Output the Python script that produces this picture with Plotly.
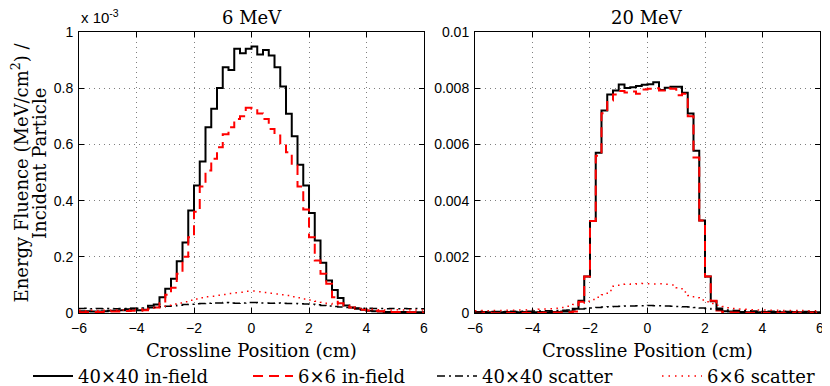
"""Energy fluence profiles, 6 MeV and 20 MeV, in-field vs scatter."""

import numpy as np
import plotly.graph_objects as go

# bin edges of the crossline profiles (cm), 0.2 cm bins
EDGES_CM = np.linspace(-6.0, 6.0, 61)

# 6 MeV panel, values in units of 1e-3 MeV/cm^2 per incident particle
mev6_in40 = [
    0.006, 0.006, 0.005, 0.005, 0.006, 0.008, 0.008, 0.010, 0.013, 0.015,
    0.010, 0.012, 0.026, 0.030, 0.056, 0.086, 0.122, 0.184, 0.251, 0.365,
    0.454, 0.539, 0.661, 0.727, 0.801, 0.875, 0.865, 0.940, 0.924, 0.940,
    0.948, 0.920, 0.936, 0.916, 0.875, 0.806, 0.709, 0.629, 0.528, 0.454,
    0.356, 0.258, 0.179, 0.116, 0.082, 0.053, 0.027, 0.020, 0.015, 0.012,
    0.008, 0.006, 0.005, 0.004, 0.004, 0.003, 0.004, 0.003, 0.003, 0.003,
]
mev6_in6 = [
    0.003, 0.003, 0.004, 0.004, 0.004, 0.005, 0.005, 0.006, 0.007, 0.008,
    0.008, 0.010, 0.015, 0.020, 0.035, 0.065, 0.090, 0.140, 0.200, 0.270,
    0.360, 0.450, 0.507, 0.549, 0.590, 0.636, 0.661, 0.690, 0.700, 0.730,
    0.727, 0.710, 0.690, 0.655, 0.632, 0.600, 0.572, 0.525, 0.450, 0.368,
    0.270, 0.187, 0.140, 0.104, 0.056, 0.035, 0.027, 0.020, 0.015, 0.012,
    0.009, 0.008, 0.006, 0.005, 0.004, 0.004, 0.003, 0.003, 0.003, 0.002,
]
mev6_sc40 = [
    0.016, 0.017, 0.015, 0.016, 0.015, 0.016, 0.015, 0.016, 0.016, 0.017,
    0.017, 0.018, 0.019, 0.020, 0.022, 0.024, 0.026, 0.028, 0.030, 0.031,
    0.033, 0.034, 0.035, 0.036, 0.036, 0.037, 0.036, 0.035, 0.036, 0.037,
    0.037, 0.036, 0.036, 0.035, 0.036, 0.035, 0.034, 0.034, 0.033, 0.032,
    0.031, 0.029, 0.027, 0.025, 0.023, 0.021, 0.020, 0.019, 0.018, 0.017,
    0.017, 0.016, 0.016, 0.015, 0.016, 0.015, 0.016, 0.015, 0.016, 0.015,
]
mev6_sc6 = [
    0.010, 0.008, 0.010, 0.009, 0.010, 0.010, 0.011, 0.011, 0.012, 0.013,
    0.014, 0.015, 0.017, 0.020, 0.024, 0.028, 0.032, 0.036, 0.040, 0.045,
    0.050, 0.054, 0.058, 0.060, 0.063, 0.066, 0.069, 0.072, 0.074, 0.077,
    0.078, 0.076, 0.073, 0.070, 0.068, 0.065, 0.062, 0.058, 0.054, 0.050,
    0.046, 0.042, 0.038, 0.034, 0.030, 0.026, 0.022, 0.019, 0.016, 0.014,
    0.013, 0.012, 0.012, 0.011, 0.011, 0.012, 0.011, 0.012, 0.011, 0.011,
]

# 20 MeV panel, MeV/cm^2 per incident particle
mev20_in40 = [
    0.00004, 0.00004, 0.00003, 0.00004, 0.00003, 0.00004, 0.00004, 0.00003, 0.00004, 0.00004,
    0.00003, 0.00004, 0.00003, 0.00004, 0.00004, 0.00005, 0.00005, 0.00015, 0.00044, 0.00130,
    0.00327, 0.00570, 0.00721, 0.00778, 0.00792, 0.00813, 0.00801, 0.00803, 0.00808, 0.00812,
    0.00814, 0.00821, 0.00794, 0.00802, 0.00805, 0.00805, 0.00784, 0.00710, 0.00577, 0.00329,
    0.00130, 0.00042, 0.00016, 0.00006, 0.00005, 0.00004, 0.00004, 0.00003, 0.00004, 0.00003,
    0.00004, 0.00003, 0.00004, 0.00003, 0.00003, 0.00004, 0.00003, 0.00003, 0.00004, 0.00003,
]
mev20_in6 = [
    0.00002, 0.00002, 0.00001, 0.00002, 0.00002, 0.00001, 0.00002, 0.00002, 0.00001, 0.00002,
    0.00002, 0.00001, 0.00002, 0.00002, 0.00002, 0.00002, 0.00003, 0.00005, 0.00040, 0.00130,
    0.00327, 0.00560, 0.00711, 0.00756, 0.00778, 0.00790, 0.00785, 0.00788, 0.00780, 0.00795,
    0.00798, 0.00800, 0.00792, 0.00800, 0.00798, 0.00775, 0.00780, 0.00700, 0.00553, 0.00329,
    0.00130, 0.00044, 0.00009, 0.00003, 0.00002, 0.00002, 0.00002, 0.00001, 0.00002, 0.00002,
    0.00001, 0.00002, 0.00002, 0.00001, 0.00002, 0.00002, 0.00001, 0.00002, 0.00002, 0.00001,
]
mev20_sc40 = [
    0.00004, 0.00005, 0.00004, 0.00005, 0.00005, 0.00005, 0.00006, 0.00005, 0.00006, 0.00006,
    0.00007, 0.00007, 0.00008, 0.00008, 0.00009, 0.00010, 0.00011, 0.00012, 0.00014, 0.00016,
    0.00018, 0.00020, 0.00021, 0.00022, 0.00023, 0.00024, 0.00025, 0.00025, 0.00026, 0.00026,
    0.00027, 0.00026, 0.00026, 0.00025, 0.00024, 0.00023, 0.00022, 0.00021, 0.00020, 0.00018,
    0.00016, 0.00014, 0.00012, 0.00011, 0.00010, 0.00009, 0.00008, 0.00008, 0.00007, 0.00007,
    0.00006, 0.00006, 0.00005, 0.00006, 0.00005, 0.00005, 0.00004, 0.00005, 0.00004, 0.00004,
]
mev20_sc6 = [
    0.00008, 0.00009, 0.00008, 0.00009, 0.00009, 0.00010, 0.00010, 0.00011, 0.00011, 0.00012,
    0.00012, 0.00013, 0.00014, 0.00015, 0.00017, 0.00020, 0.00024, 0.00030, 0.00036, 0.00042,
    0.00048, 0.00056, 0.00065, 0.00080, 0.00095, 0.00102, 0.00103, 0.00102, 0.00104, 0.00105,
    0.00104, 0.00103, 0.00104, 0.00102, 0.00100, 0.00090, 0.00075, 0.00062, 0.00054, 0.00046,
    0.00040, 0.00034, 0.00028, 0.00023, 0.00019, 0.00016, 0.00014, 0.00013, 0.00012, 0.00011,
    0.00011, 0.00010, 0.00010, 0.00009, 0.00009, 0.00009, 0.00008, 0.00009, 0.00008, 0.00008,
]

SERIES_NAMES = ["40×40 in-field", "6×6 in-field", "40×40 scatter", "6×6 scatter"]
PANEL_TITLES = ["6 MeV", "20 MeV"]
PANELS = [
    [mev6_in40, mev6_in6, mev6_sc40, mev6_sc6],
    [mev20_in40, mev20_in6, mev20_sc40, mev20_sc6],
]

LINE_STYLES = [
    {"color": "black", "width": 2, "dash": "solid"},
    {"color": "red", "width": 2, "dash": "10px,6px"},
    {"color": "black", "width": 1.5, "dash": "8px,4px,2px,4px"},
    {"color": "red", "width": 1.5, "dash": "1.5px,5px"},
]

SERIF = "DejaVu Serif"
SANS = "Liberation Sans"
SERIF_SIZE = 18
TICK_SIZE = 14

# the page body adds an 8px margin, so the figure is laid out 8px up/left
# plot area in figure pixels: left 71, right 812, top 24, bottom 305
ML, MR, MT, MB = 71, 18, 24, 81
PW = 830 - ML - MR

# one legend per series so the entries sit in a single row
LEGEND_IDS = ["legend", "legend2", "legend3", "legend4"]
LEGEND_X_PX = [20, 240, 424, 649]

fig = go.Figure()
for p, panel in enumerate(PANELS):
    xa = "x" if p == 0 else "x2"
    ya = "y" if p == 0 else "y2"
    for name, vals, style, leg in zip(SERIES_NAMES, panel, LINE_STYLES, LEGEND_IDS):
        fig.add_trace(
            go.Scatter(
                x=EDGES_CM,
                y=list(vals) + [vals[-1]],
                mode="lines",
                line_shape="hv",
                name=name,
                line=style,
                legend=leg,
                showlegend=(p == 0),
                xaxis=xa,
                yaxis=ya,
            )
        )

axis_common = dict(
    showline=True,
    linecolor="black",
    linewidth=1,
    mirror="ticks",
    ticks="inside",
    ticklen=5,
    tickcolor="black",
    showgrid=True,
    gridcolor="rgba(0,0,0,0.5)",
    gridwidth=1,
    griddash="1px,4px",
    zeroline=False,
    automargin=False,
    ticklabelstandoff=2,
    tickfont=dict(family=SANS, size=TICK_SIZE, color="black"),
)

left_dom = [0.0, 0.4656]
right_dom = [0.5344, 1.0]

fig.update_layout(
    template="none",
    width=830,
    height=386,
    margin=dict(l=ML, r=MR, t=MT, b=MB, autoexpand=False),
    paper_bgcolor="white",
    plot_bgcolor="white",
    xaxis=dict(domain=left_dom, range=[-6, 6], dtick=2, anchor="y", **axis_common),
    yaxis=dict(domain=[0, 1], range=[0, 1], dtick=0.2, anchor="x", **axis_common),
    xaxis2=dict(domain=right_dom, range=[-6, 6], dtick=2, anchor="y2", **axis_common),
    yaxis2=dict(domain=[0, 1], range=[0, 0.01], dtick=0.002, anchor="x2", **axis_common),
    showlegend=True,
)

for leg, xpx in zip(LEGEND_IDS, LEGEND_X_PX):
    fig.update_layout({
        leg: dict(
            orientation="h",
            xref="container",
            x=xpx / 830,
            xanchor="left",
            y=-0.225,
            yanchor="middle",
            font=dict(family=SERIF, size=SERIF_SIZE, color="black"),
            itemwidth=40,
            bgcolor="rgba(0,0,0,0)",
        )
    })

annotations = []
for dom, title in zip([left_dom, right_dom], PANEL_TITLES):
    cx = (dom[0] + dom[1]) / 2
    annotations.append(dict(
        x=cx, y=1.05, xref="paper", yref="paper", text=title, showarrow=False,
        xanchor="center", yanchor="middle",
        font=dict(family=SERIF, size=SERIF_SIZE, color="black"),
    ))
    annotations.append(dict(
        x=cx, y=-0.135, xref="paper", yref="paper", text="Crossline Position (cm)",
        showarrow=False, xanchor="center", yanchor="middle",
        font=dict(family=SERIF, size=SERIF_SIZE, color="black"),
    ))

annotations.append(dict(
    x=0.0, y=1.055, xref="paper", yref="paper", text="x 10<sup>-3</sup>",
    showarrow=False, xanchor="left", yanchor="middle",
    font=dict(family=SANS, size=15, color="black"),
))
# two-line y label, positions given as figure pixels from the left edge
annotations.append(dict(
    x=(12 - ML) / PW, y=0.50, xref="paper", yref="paper",
    text="Energy Fluence (MeV/cm<sup>2</sup>) /",
    showarrow=False, textangle=-90, xanchor="center", yanchor="middle",
    font=dict(family=SERIF, size=SERIF_SIZE, color="black"),
))
annotations.append(dict(
    x=(31 - ML) / PW, y=0.53, xref="paper", yref="paper", text="Incident Particle",
    showarrow=False, textangle=-90, xanchor="center", yanchor="middle",
    font=dict(family=SERIF, size=SERIF_SIZE, color="black"),
))

fig.update_layout(annotations=annotations)

fig.write_html("out.html")
